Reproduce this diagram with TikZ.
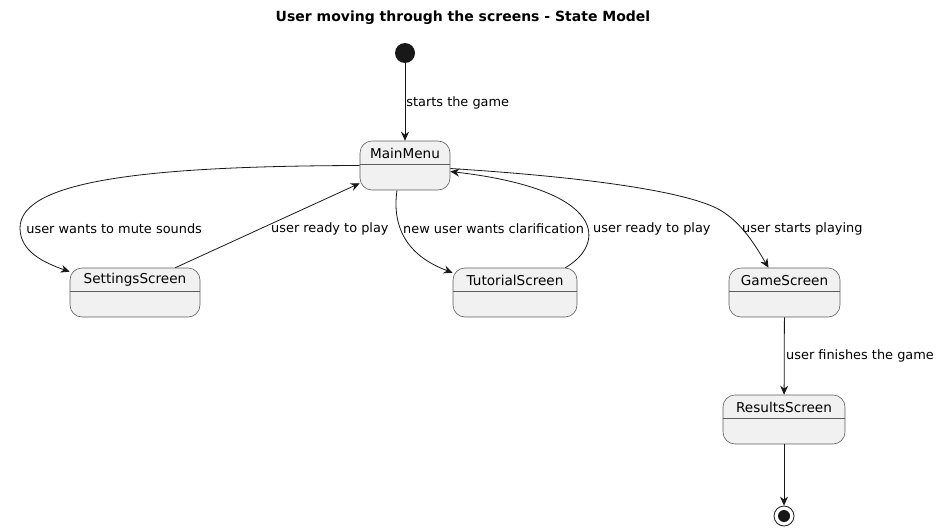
\documentclass[tikz,border=0pt]{standalone}
\usepackage{fontspec}
\setmainfont{DejaVu Sans}
\usetikzlibrary{arrows.meta}
\definecolor{stfill}{HTML}{F1F1F1}
\definecolor{stline}{HTML}{181818}
\begin{document}
\begin{tikzpicture}[x=1pt,y=-1pt,
  statebox/.style={draw=stline!70, line width=0.6pt, fill=stfill, rounded corners=12pt, minimum height=49pt, inner sep=0pt},
  divider/.style={draw=stline!70, line width=0.6pt},
  sname/.style={font=\fontsize{13.6}{15}\selectfont, inner sep=0pt},
  lbl/.style={font=\fontsize{12.9}{15}\selectfont, inner sep=0pt, text=black},
  conn/.style={draw=stline, line width=0.8pt, -{Stealth[length=9pt,width=8pt,inset=3pt]}},
  ]
\useasboundingbox (0,0) rectangle (939,530);
\node[font=\bfseries\fontsize{14}{16}\selectfont] (title) at (463,18) {User moving through the screens - State Model};

% start / end
\node[circle, fill=stline, minimum size=20pt, inner sep=0pt] (start) at (405,53) {};
\node[circle, draw=stline, line width=0.8pt, fill=white, minimum size=20pt, inner sep=0pt] (end) at (784,516) {};
\node[circle, fill=stline, minimum size=12pt, inner sep=0pt] (endin) at (784,516) {};

% states
\node[statebox, minimum width=90pt] (mm) at (405,165.5) {};
\node[statebox, minimum width=130pt] (set) at (135,292.5) {};
\node[statebox, minimum width=124pt] (tut) at (515,292.5) {};
\node[statebox, minimum width=111pt] (game) at (784.5,292.5) {};
\node[statebox, minimum width=122pt] (res) at (784,419.5) {};

\foreach \n/\t in {mm/MainMenu, set/SettingsScreen, tut/TutorialScreen, game/GameScreen, res/ResultsScreen}{
  \draw[divider] ([yshift=-24pt]\n.north west) -- ([yshift=-24pt]\n.north east);
  \node[sname] (\n-name) at ([yshift=-12.5pt]\n.north) {\t};
}

% connectors
\draw[conn] (start) -- (mm) node[lbl, pos=0.5, anchor=west, xshift=1pt, yshift=-1pt] (l1) {starts the game};

\draw[conn] (mm.west) .. controls (150,166) and (20,180) .. (20,228)
  node[lbl, anchor=west, xshift=6pt, yshift=-1pt] (l2) {user wants to mute sounds}
  .. controls (20,252) and (45,263) .. ([yshift=-4pt]set.north west);

\draw[conn] ([xshift=-25pt]set.north east) -- ([yshift=7pt]mm.south west);
\node[lbl, anchor=west] (l3) at (271,229) {user ready to play};

\draw[conn] ([xshift=-8pt]mm.south) .. controls (392,225) and (405,255) .. ([yshift=-5pt]tut.north west);
\node[lbl, anchor=west] (l4) at (403,229) {new user wants clarification};

\draw[conn] ([xshift=-12pt]tut.north east) .. controls (605,245) and (610,190) .. ([yshift=-6pt]mm.east);
\node[lbl, anchor=west] (l5) at (593,229) {user ready to play};

\draw[conn] ([yshift=-3pt]mm.east) .. controls (600,178) and (690,193) .. (720,210)
  .. controls (742,223) and (755,245) .. ([xshift=-16pt]game.north);
\node[lbl, anchor=west] (l6) at (742,229) {user starts playing};

\draw[conn] (game) -- (res);
\node[lbl, anchor=west] (l7) at (786,356) {user finishes the game};

\draw[conn] (res) -- (end);
\end{tikzpicture}
\end{document}
